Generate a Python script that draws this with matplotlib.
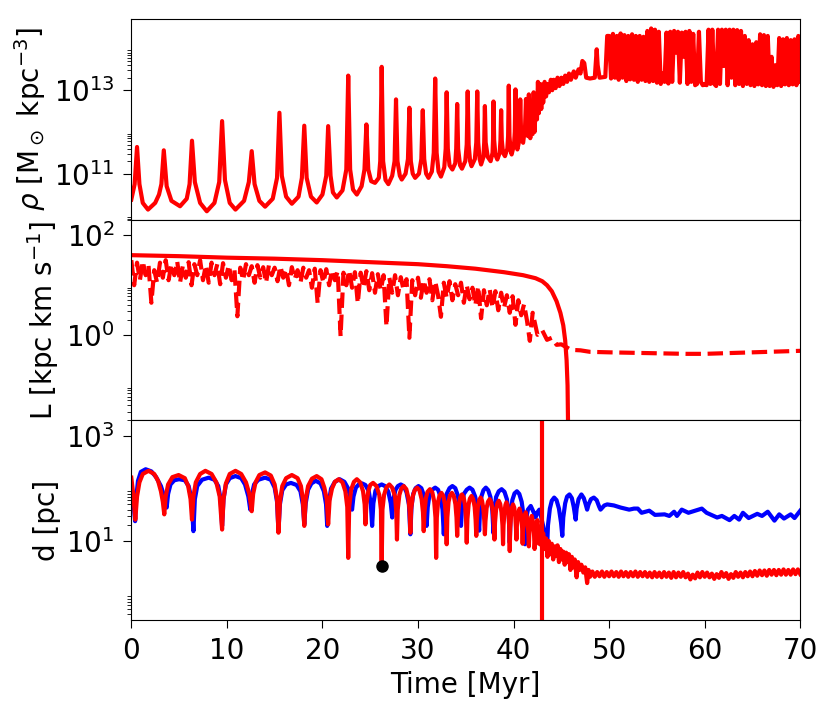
import numpy as np
import matplotlib
matplotlib.use("Agg")
from matplotlib import pyplot as plt
from matplotlib.ticker import FixedLocator, NullFormatter

# ---- density (log10 rho) key points: (time Myr, log10 rho)
rho_pts = [
    (0.0, 10.38), (0.35, 10.75), (0.6, 11.64), (0.85, 10.75), (1.2, 10.3), (1.75, 10.14),
    (2.5, 10.3), (2.9, 10.5), (3.15, 10.75), (3.4, 11.56), (3.7, 10.7), (4.2, 10.35), (5.1, 10.22),
    (5.8, 10.4), (6.1, 10.75), (6.35, 11.79), (6.65, 10.8), (7.2, 10.3), (7.9, 10.10),
    (8.7, 10.3), (9.2, 10.8), (9.5, 12.26), (9.8, 10.85), (10.3, 10.3), (10.9, 10.14),
    (11.8, 10.35), (12.3, 10.8), (12.6, 11.54), (12.9, 10.75), (13.4, 10.35), (14.0, 10.21),
    (14.8, 10.4), (15.25, 10.9), (15.5, 12.46), (15.75, 10.95), (16.2, 10.45), (16.8, 10.28),
    (17.5, 10.45), (17.85, 10.9), (18.1, 12.15), (18.35, 10.9), (18.8, 10.45), (19.4, 10.31),
    (20.0, 10.5), (20.4, 10.95), (20.6, 12.14), (20.85, 10.95), (21.1, 10.55), (21.5, 10.43),
    (22.1, 10.6), (22.5, 11.1), (22.7, 13.35), (22.9, 11.1), (23.2, 10.62), (23.6, 10.50),
    (24.1, 10.7), (24.4, 11.1), (24.6, 12.18), (24.8, 11.1), (25.1, 10.82), (25.5, 10.78),
    (25.9, 10.9), (26.05, 11.3), (26.2, 13.56), (26.35, 11.3), (26.6, 10.85), (26.9, 10.75),
    (27.3, 10.95), (27.55, 11.3), (27.7, 12.78), (27.85, 11.3), (28.1, 10.95), (28.3, 10.86),
    (28.7, 11.0), (28.95, 11.35), (29.1, 12.58), (29.25, 11.3), (29.45, 11.0), (29.7, 10.90),
    (30.1, 11.0), (30.35, 11.35), (30.5, 12.52), (30.65, 11.35), (30.85, 11.0), (31.1, 10.90),
    (31.45, 11.05), (31.65, 11.5), (31.8, 13.28), (31.95, 11.5), (32.15, 11.05), (32.4, 10.93),
    (32.75, 11.15), (32.9, 11.6), (33.0, 12.95), (33.12, 11.6), (33.3, 11.2), (33.6, 11.10),
    (33.9, 11.25), (34.0, 11.6), (34.1, 12.67), (34.2, 11.6), (34.4, 11.2), (34.6, 11.12),
    (34.95, 11.3), (35.1, 11.7), (35.2, 12.97), (35.3, 11.7), (35.45, 11.3), (35.6, 11.18),
    (35.95, 11.35), (36.1, 11.75), (36.2, 12.97), (36.3, 11.75), (36.45, 11.35), (36.6, 11.22),
    (36.85, 11.4), (36.93, 11.75), (37.0, 12.62), (37.08, 11.75), (37.3, 11.4), (37.6, 11.30),
    (37.8, 11.5), (37.85, 11.8), (37.9, 12.73), (37.97, 11.8), (38.1, 11.45), (38.3, 11.34),
    (38.55, 11.5), (38.63, 11.8), (38.7, 12.52), (38.77, 11.8), (38.9, 11.5), (39.1, 11.42),
    (39.35, 11.6), (39.43, 11.9), (39.5, 13.11), (39.57, 11.9), (39.7, 11.55), (39.8, 11.46),
    (40.05, 11.7), (40.13, 12.0), (40.2, 13.02), (40.27, 12.0), (40.35, 11.62), (40.4, 11.58),
    (40.6, 11.8), (40.7, 12.78), (40.8, 11.85), (41.0, 11.74), (41.2, 12.1), (41.3, 12.79),
    (41.4, 12.1), (41.5, 11.9), (41.6, 12.9), (41.75, 11.85), (41.9, 12.7), (42.0, 11.95),
    (42.1, 12.95), (42.2, 12.0), (42.35, 12.8), (42.45, 12.3), (42.55, 13.2), (42.65, 12.45),
    (42.8, 13.15), (42.9, 12.55), (43.0, 13.1), (43.1, 12.7), (43.25, 13.2), (43.4, 12.85),
    (43.55, 13.15), (43.7, 12.95), (43.9, 13.25), (44.05, 13.0), (44.2, 13.25), (44.4, 13.05),
    (44.6, 13.3), (44.8, 13.1), (45.0, 13.3), (45.2, 13.15), (45.4, 13.35), (45.6, 13.2),
    (45.8, 13.4), (46.0, 13.25), (46.3, 13.45), (46.5, 13.3), (46.8, 13.5), (47.0, 13.4),
    (47.2, 13.7), (47.4, 13.65), (47.6, 13.3), (48.0, 13.28), (48.5, 13.3), (48.7, 13.98),
    (48.8, 13.6), (49.0, 13.3), (49.6, 13.32), (49.8, 14.3),
]
# late, fast-oscillating part, sampled every 0.2 Myr from 50 to 70
rho_late = [
    14.3, 13.28, 14.35, 13.3, 14.3, 13.25, 14.36, 13.3, 14.32, 13.22,
    14.3, 13.26, 14.34, 13.25, 14.3, 13.2, 14.3, 13.25, 14.28, 13.22,
    14.42, 13.2, 14.48, 13.22, 14.45, 13.18, 14.4, 13.15, 13.4, 13.2,
    14.38, 13.16, 14.4, 13.2, 14.42, 13.9, 14.4, 13.18, 14.38, 13.8,
    14.4, 13.15, 14.42, 13.2, 14.35, 13.12, 13.15, 14.4, 13.2, 13.12,
    13.14, 13.12, 14.45, 13.15, 14.45, 13.15, 13.1, 14.45, 13.15, 14.45,
    13.58, 14.45, 13.12, 14.45, 13.3, 14.45, 13.12, 14.44, 13.15, 14.42,
    13.1, 14.3, 13.15, 14.2, 13.12, 14.1, 13.1, 14.15, 13.14, 14.34,
    13.12, 14.32, 13.1, 14.3, 13.1, 13.8, 13.08, 13.6, 13.12, 14.25,
    13.1, 14.22, 13.14, 14.25, 13.12, 14.2, 13.14, 14.22, 13.12, 14.3,
    13.2,
]

# ---- angular momentum (log10 L)
L_total_pts = [
    (0.0, 1.6), (5.0, 1.58), (10.0, 1.55), (15.0, 1.53), (20.0, 1.5), (25.0, 1.46),
    (30.0, 1.42), (33.0, 1.38), (36.0, 1.33), (39.0, 1.26), (41.0, 1.2), (42.3, 1.14),
    (43.0, 1.08), (43.5, 1.0), (44.0, 0.88), (44.5, 0.68), (44.9, 0.45), (45.2, 0.2),
    (45.4, -0.1), (45.55, -0.5), (45.65, -1.0), (45.75, -2.5),
]
# dashed component, every 0.3 Myr from 0 to 42
L_part = [
    1.50, 1.0, 1.45, 1.1, 1.48, 1.2, 1.4, 0.65, 1.3, 1.05,
    1.45, 1.15, 1.5, 1.1, 1.42, 1.2, 1.48, 1.05, 1.4, 1.15,
    1.46, 1.0, 1.42, 1.2, 1.5, 1.1, 1.4, 1.05, 1.45, 1.2,
    1.42, 1.02, 1.44, 1.15, 1.4, 1.1, 1.3, 0.38, 1.35, 1.1,
    1.42, 1.2, 1.38, 1.05, 1.4, 1.15, 1.36, 1.05, 1.4, 1.2,
    1.35, 1.08, 1.38, 1.15, 1.32, 1.0, 1.36, 1.12, 1.3, 1.05,
    1.35, 1.15, 1.3, 0.95, 1.33, 0.64, 1.3, 1.05, 1.32, 1.0,
    1.3, 1.1, 1.28, -0.02, 1.25, 1.0, 1.3, 0.95, 1.26, 0.64,
    1.25, 0.95, 1.28, 0.9, 1.24, 0.85, 1.22, 0.9, 1.2, 0.18,
    1.15, 0.85, 1.2, 0.8, 1.16, 0.9, 1.12, -0.05, 1.1, 0.8,
    1.15, 0.75, 1.1, 0.85, 1.12, 0.7, 1.08, 0.8, 0.37, 1.05,
    0.75, 1.08, 0.7, 1.02, 0.8, 1.05, 0.65, 1.0, 0.72, 0.95,
    0.6, 0.98, 0.34, 0.9, 0.6, 0.92, 0.55, 0.88, 0.5, 0.85,
    0.55, 0.8, 0.45, 0.78, 0.21, 0.7, 0.4, 0.62, 0.3, -0.11,
    0.45,
]
L_part_tail = [
    (42.5, 0.01), (43.0, 0.1), (43.5, -0.09), (44.0, -0.05), (44.5, -0.19), (45.0, -0.18),
    (46.0, -0.29), (47.0, -0.3), (48.0, -0.33), (50.0, -0.34), (55.0, -0.36), (58.0, -0.37),
    (60.0, -0.37), (65.0, -0.34), (70.0, -0.31),
]

# ---- distance (log10 d), red orbit
d_red_pts = [
    (0.0, 2.21), (0.2, 1.9), (0.42, 1.41),
    (0.6, 1.85), (0.85, 2.12), (1.2, 2.28), (1.8, 2.34), (2.4, 2.28), (2.8, 2.15), (3.1, 1.95), (3.3, 1.75), (3.45, 1.51),
    (3.6, 1.85), (3.85, 2.08), (4.3, 2.22), (4.95, 2.26), (5.6, 2.2), (5.95, 2.05), (6.2, 1.8), (6.35, 1.41),
    (6.5, 1.85), (6.75, 2.12), (7.2, 2.28), (7.75, 2.34), (8.4, 2.28), (8.9, 2.12), (9.25, 1.85), (9.5, 1.22),
    (9.65, 1.8), (9.9, 2.1), (10.3, 2.28), (10.9, 2.34), (11.5, 2.28), (12.0, 2.12), (12.35, 1.9), (12.6, 1.57),
    (12.75, 1.9), (13.0, 2.12), (13.4, 2.26), (14.0, 2.31), (14.6, 2.25), (15.0, 2.08), (15.25, 1.8), (15.4, 1.16),
    (15.55, 1.75), (15.8, 2.05), (16.2, 2.2), (16.8, 2.26), (17.4, 2.2), (17.75, 2.05), (17.95, 1.8), (18.1, 1.29),
    (18.25, 1.8), (18.5, 2.05), (18.9, 2.19), (19.4, 2.24), (19.9, 2.18), (20.2, 2.02), (20.45, 1.8), (20.6, 1.32),
    (20.75, 1.78), (21.0, 2.0), (21.3, 2.13), (21.7, 2.18), (22.1, 2.12), (22.4, 1.95), (22.6, 1.65), (22.7, 0.68),
    (22.8, 1.65), (23.0, 1.98), (23.3, 2.13), (23.6, 2.18), (23.95, 2.12), (24.25, 1.95), (24.42, 1.7), (24.5, 1.32),
    (24.6, 1.7), (24.8, 1.95), (25.0, 2.07), (25.3, 2.11), (25.65, 2.05), (25.95, 1.88), (26.12, 1.6), (26.2, 0.55),
    (26.28, 1.6), (26.45, 1.88), (26.7, 2.03), (27.0, 2.08), (27.3, 2.02), (27.6, 1.85), (27.73, 1.55), (27.8, 1.03),
    (27.88, 1.6), (28.05, 1.88), (28.25, 2.0), (28.5, 2.05), (28.78, 1.99), (29.0, 1.82), (29.13, 1.55), (29.2, 1.16),
    (29.28, 1.6), (29.45, 1.85), (29.65, 1.97), (29.9, 2.02), (30.15, 1.97), (30.38, 1.8), (30.52, 1.55), (30.6, 1.19),
    (30.68, 1.55), (30.83, 1.82), (31.0, 1.94), (31.25, 1.99), (31.5, 1.93), (31.7, 1.75), (31.83, 1.45), (31.9, 0.68),
    (31.97, 1.45), (32.1, 1.75), (32.25, 1.87), (32.45, 1.92), (32.65, 1.86), (32.82, 1.7), (32.93, 1.45), (33.0, 0.94),
    (33.07, 1.45), (33.2, 1.75), (33.35, 1.87), (33.55, 1.92), (33.75, 1.86), (33.92, 1.7), (34.03, 1.45), (34.1, 1.10),
    (34.17, 1.45), (34.3, 1.72), (34.43, 1.84), (34.6, 1.89), (34.78, 1.83), (34.93, 1.68), (35.03, 1.42), (35.1, 0.97),
    (35.17, 1.42), (35.3, 1.7), (35.43, 1.81), (35.6, 1.86), (35.78, 1.8), (35.93, 1.65), (36.03, 1.4), (36.1, 1.10),
    (36.16, 1.4), (36.27, 1.66), (36.4, 1.78), (36.55, 1.83), (36.7, 1.77), (36.84, 1.62), (36.94, 1.38), (37.0, 1.13),
    (37.06, 1.38), (37.18, 1.63), (37.32, 1.75), (37.5, 1.80), (37.67, 1.74), (37.82, 1.58), (37.93, 1.35), (38.0, 1.03),
    (38.06, 1.35), (38.17, 1.6), (38.3, 1.72), (38.45, 1.77), (38.6, 1.71), (38.74, 1.55), (38.84, 1.3), (38.9, 0.94),
    (38.95, 1.3), (39.05, 1.55), (39.15, 1.69), (39.25, 1.74), (39.37, 1.68), (39.48, 1.5), (39.55, 1.25), (39.6, 0.81),
    (39.65, 1.25), (39.75, 1.52), (39.85, 1.65), (39.95, 1.70), (40.07, 1.64), (40.18, 1.48), (40.25, 1.25), (40.3, 1.03),
    (40.35, 1.3), (40.45, 1.5), (40.62, 1.62), (40.78, 1.5), (40.9, 1.25), (40.95, 0.95),
    (41.0, 1.2), (41.1, 1.42), (41.27, 1.55), (41.43, 1.42), (41.55, 1.15), (41.6, 0.9),
    (41.65, 1.15), (41.75, 1.36), (41.9, 1.48), (42.05, 1.35), (42.15, 1.1), (42.2, 0.85),
    (42.3, 1.1), (42.4, 1.3), (42.5, 1.4), (42.6, 1.2), (42.65, 0.95),
    (42.8, 1.25), (42.95, 0.9), (43.1, 1.15), (43.25, 0.85), (43.4, 1.05),
    (43.55, 0.7), (43.7, 1.0), (43.85, 0.75), (44.0, 0.95), (44.15, 0.65), (44.3, 0.9),
    (44.45, 0.72), (44.6, 0.92), (44.75, 0.6), (44.9, 0.85), (45.05, 0.65), (45.2, 0.8),
    (45.35, 0.55), (45.5, 0.78), (45.65, 0.6), (45.8, 0.75), (45.95, 0.45), (46.1, 0.7),
    (46.25, 0.5), (46.4, 0.65), (46.6, 0.31), (46.75, 0.6), (46.9, 0.45), (47.1, 0.55),
    (47.3, 0.4), (47.5, 0.5), (47.7, 0.2), (47.85, 0.45), (48.0, 0.32),
]
# settled part, every 0.25 Myr from 48.25 to 70
d_red_late = [
    0.42, 0.32, 0.41, 0.33, 0.42, 0.32, 0.41, 0.33, 0.42, 0.33, 0.41, 0.32, 0.42, 0.33,
    0.41, 0.32, 0.41, 0.33, 0.42, 0.32, 0.41, 0.33, 0.41, 0.32, 0.40, 0.31, 0.41, 0.32,
    0.40, 0.31, 0.41, 0.32, 0.40, 0.30, 0.41, 0.31, 0.40, 0.32, 0.41, 0.31, 0.38, 0.27,
    0.36, 0.29, 0.40, 0.31, 0.41, 0.32,
    0.40, 0.31, 0.38, 0.28, 0.37, 0.30, 0.41, 0.32, 0.39, 0.28, 0.37, 0.30, 0.41, 0.32,
    0.40, 0.31, 0.41, 0.33, 0.42, 0.33,
    0.43, 0.34, 0.44, 0.35, 0.44, 0.34, 0.45, 0.36, 0.45, 0.35, 0.45, 0.36, 0.46, 0.36,
    0.45, 0.36, 0.46, 0.37, 0.46, 0.37,
]
# ---- distance (log10 d), blue orbit
d_blue_pts = [
    (0.0, 2.08), (0.2, 1.8), (0.4, 1.38),
    (0.5, 1.8), (0.7, 2.15), (1.0, 2.32), (1.5, 2.37), (2.1, 2.33), (2.6, 2.22), (3.1, 2.05), (3.45, 1.85), (3.7, 1.64),
    (3.85, 1.9), (4.1, 2.08), (4.5, 2.16), (5.0, 2.18), (5.6, 2.16), (6.0, 2.05), (6.3, 1.8), (6.5, 1.19),
    (6.65, 1.8), (6.9, 2.05), (7.4, 2.17), (8.1, 2.21), (8.7, 2.17), (9.1, 2.05), (9.35, 1.8), (9.5, 1.29),
    (9.65, 1.8), (9.9, 2.08), (10.3, 2.2), (10.9, 2.24), (11.5, 2.2), (11.9, 2.08), (12.25, 1.85), (12.45, 1.60),
    (12.6, 1.88), (12.85, 2.08), (13.3, 2.17), (14.0, 2.21), (14.6, 2.17), (15.0, 2.02), (15.25, 1.75), (15.4, 1.19),
    (15.55, 1.7), (15.8, 1.97), (16.2, 2.08), (16.7, 2.11), (17.3, 2.07), (17.7, 1.95), (17.95, 1.7), (18.1, 1.32),
    (18.25, 1.72), (18.5, 1.98), (18.85, 2.1), (19.3, 2.15), (19.8, 2.1), (20.15, 1.95), (20.38, 1.7), (20.5, 1.29),
    (20.65, 1.72), (20.9, 2.0), (21.3, 2.13), (21.8, 2.18), (22.3, 2.13), (22.7, 2.0), (22.95, 1.8), (23.1, 1.60),
    (23.25, 1.85), (23.5, 2.02), (23.8, 2.08), (24.15, 2.1), (24.5, 2.07), (24.85, 1.95), (25.07, 1.7), (25.2, 1.29),
    (25.33, 1.72), (25.55, 1.96), (25.85, 2.05), (26.2, 2.08), (26.55, 2.05), (26.9, 1.94), (27.15, 1.72), (27.3, 1.45),
    (27.42, 1.8), (27.65, 1.98), (27.9, 2.05), (28.2, 2.08), (28.5, 2.05), (28.8, 1.93), (29.05, 1.7), (29.2, 1.13),
    (29.32, 1.65), (29.5, 1.9), (29.75, 2.01), (30.05, 2.05), (30.35, 2.01), (30.6, 1.88), (30.8, 1.62), (30.9, 1.29),
    (31.02, 1.65), (31.2, 1.88), (31.5, 1.98), (31.8, 2.02), (32.1, 1.98), (32.35, 1.85), (32.57, 1.6), (32.7, 1.13),
    (32.82, 1.65), (33.0, 1.9), (33.3, 2.01), (33.6, 2.05), (33.9, 2.01), (34.15, 1.88), (34.37, 1.65), (34.5, 1.29),
    (34.62, 1.68), (34.8, 1.9), (35.1, 1.98), (35.4, 2.02), (35.7, 1.98), (35.98, 1.85), (36.25, 1.6), (36.4, 1.2),
    (36.5, 1.62), (36.65, 1.86), (36.85, 1.97), (37.1, 2.02), (37.35, 1.97), (37.58, 1.84), (37.78, 1.58), (37.9, 1.15),
    (38.0, 1.6), (38.17, 1.84), (38.45, 1.95), (38.75, 1.99), (39.05, 1.94), (39.3, 1.8), (39.5, 1.5), (39.6, 0.97),
    (39.7, 1.5), (39.87, 1.78), (40.1, 1.91), (40.35, 1.95), (40.6, 1.9), (40.85, 1.75), (41.07, 1.45), (41.2, 0.94),
    (41.3, 1.4), (41.5, 1.6), (41.8, 1.67), (42.1, 1.55), (42.3, 1.45), (42.5, 1.55), (42.7, 1.6), (42.9, 1.45),
    (43.2, 1.2), (43.5, 0.81),
    (43.6, 1.3), (43.8, 1.62), (44.0, 1.77), (44.25, 1.83), (44.5, 1.78), (44.75, 1.62), (44.97, 1.35), (45.1, 1.10),
    (45.2, 1.45), (45.4, 1.72), (45.6, 1.85), (45.85, 1.89), (46.1, 1.82), (46.3, 1.65), (46.5, 1.41),
    (46.6, 1.62), (46.8, 1.8), (47.1, 1.89), (47.35, 1.82), (47.55, 1.7), (47.7, 1.60),
    (47.85, 1.7), (48.1, 1.8), (48.4, 1.83), (48.7, 1.78), (48.95, 1.66), (49.1, 1.60),
    (49.5, 1.68), (49.8, 1.70), (50.5, 1.68), (51.2, 1.64), (52.1, 1.60), (52.6, 1.62),
    (53.0, 1.62), (53.4, 1.54), (54.2, 1.58), (54.8, 1.50), (55.8, 1.51), (56.3, 1.48),
    (56.8, 1.56), (57.1, 1.48), (57.6, 1.60), (58.3, 1.54), (59.0, 1.58), (59.7, 1.62),
    (60.2, 1.54), (61.3, 1.45), (61.8, 1.48), (62.6, 1.40), (63.1, 1.48), (63.6, 1.41),
    (64.0, 1.54), (64.6, 1.44), (65.5, 1.52), (66.0, 1.48), (66.6, 1.56), (67.3, 1.39),
    (67.8, 1.51), (68.3, 1.43), (69.0, 1.51), (69.4, 1.44), (70.0, 1.58),
]
t_event = 43.0
dot_t, dot_d = 26.2, 3.3


def unpack(pts):
    t, v = zip(*pts)
    return np.array(t), np.array(v)


t_rho, lr = unpack(rho_pts)
t_rho = np.concatenate([t_rho, np.linspace(50.0, 70.0, len(rho_late))])
rho = 10 ** np.concatenate([lr, rho_late])

t_Lt, lLt = unpack(L_total_pts)
t_tail, l_tail = unpack(L_part_tail)
t_Lp = np.concatenate([np.linspace(0.0, 42.0, len(L_part)), t_tail])
L_p = 10 ** np.concatenate([L_part, l_tail])

t_dr, ldr = unpack(d_red_pts)
t_dr = np.concatenate([t_dr, np.linspace(48.25, 70.0, len(d_red_late))])
d_red = 10 ** np.concatenate([ldr, d_red_late])
t_db, ldb = unpack(d_blue_pts)

plt.rcParams['font.size'] = 20
plt.rcParams['font.family'] = 'DejaVu Sans'
plt.rcParams['mathtext.fontset'] = 'dejavusans'

fig, axes = plt.subplots(3, 1, sharex=True, figsize=(8.31, 7.13), dpi=100)
fig.subplots_adjust(left=0.158, right=0.963, top=0.973, bottom=0.130, hspace=0)
ax1, ax2, ax3 = axes

ax1.plot(t_rho, rho, color='red', lw=3)
ax1.set_yscale('log')
ax1.set_ylim(10 ** 9.90, 10 ** 14.70)
ax1.set_ylabel(r'$\rho$ [M$_\odot$ kpc$^{-3}$]')
ax1.yaxis.set_major_locator(FixedLocator([1e11, 1e13]))
ax1.yaxis.set_minor_locator(FixedLocator([k * 10.0 ** n for n in (9, 11, 13) for k in range(2, 10)]))
ax1.yaxis.set_minor_formatter(NullFormatter())

ax2.plot(t_Lt, 10 ** lLt, color='red', lw=3)
ax2.plot(t_Lp, L_p, color='red', lw=3, ls='--')
ax2.set_yscale('log')
ax2.set_ylim(10 ** -1.69, 10 ** 2.31)
ax2.set_ylabel(r'L [kpc km s$^{-1}$]')
ax2.yaxis.set_major_locator(FixedLocator([1e0, 1e2]))
ax2.yaxis.set_minor_locator(FixedLocator([k * 10.0 ** n for n in (-2, 0, 2) for k in range(2, 10)]))
ax2.yaxis.set_minor_formatter(NullFormatter())

ax3.plot(t_db, 10 ** ldb, color='blue', lw=3)
ax3.plot(t_dr, d_red, color='red', lw=3)
ax3.axvline(t_event, color='red', lw=3)
ax3.plot([dot_t], [dot_d], 'o', color='black', ms=8)
ax3.set_yscale('log')
ax3.set_ylim(10 ** -0.51, 10 ** 3.31)
ax3.set_ylabel('d [pc]')
ax3.yaxis.set_major_locator(FixedLocator([1e1, 1e3]))
ax3.yaxis.set_minor_locator(FixedLocator([k * 10.0 ** n for n in (-1, 1, 3) for k in range(2, 10)]))
ax3.yaxis.set_minor_formatter(NullFormatter())

ax3.set_xlim(0, 70)
ax3.set_xticks(range(0, 71, 10))
ax3.set_xlabel('Time [Myr]')
for ax in axes:
    ax.tick_params(axis='y', which='major', length=6, pad=6)
    ax.tick_params(axis='y', which='minor', length=3)
ax3.tick_params(axis='x', which='major', length=6, pad=6)
for ax in (ax1, ax2):
    ax.tick_params(axis='x', bottom=False, labelbottom=False)

fig.savefig('out.png', dpi=100)
